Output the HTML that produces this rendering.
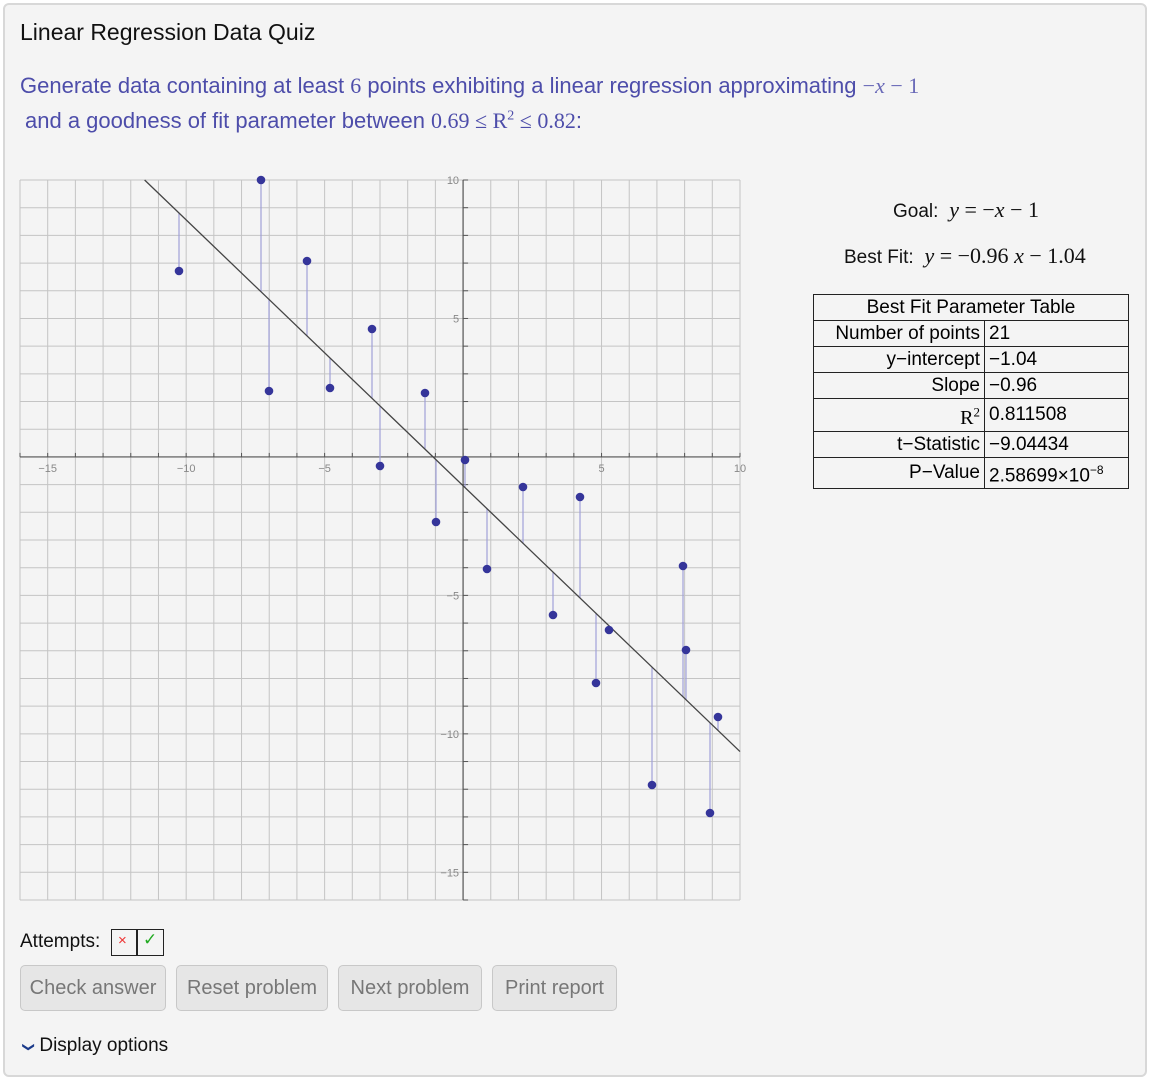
<!DOCTYPE html>
<html><head><meta charset="utf-8"><style>
body{margin:0;width:1150px;height:1080px;background:#fff;font-family:"Liberation Sans",sans-serif;position:relative;overflow:hidden}
.panel{position:absolute;left:3px;top:3px;width:1140px;height:1070px;border:2px solid #d8d8d8;border-radius:6px;background:#f4f4f4}
.t{position:absolute;white-space:nowrap}
.ser{font-family:"Liberation Serif",serif}
table{position:absolute;left:813px;top:294px;border-collapse:collapse;font-size:19px;background:#f4f4f4}
td{border:1.5px solid #222;padding:0 4px;height:25px;line-height:25px}
td.l{text-align:right}
.btn{position:absolute;top:965px;height:44px;border:1.5px solid #c8c8c8;border-radius:5px;background:#e6e6e6;color:#777;font-size:20px;line-height:44px;text-align:center}
</style></head><body>
<div class="panel"></div>
<div class="t" style="left:20px;top:19px;font-size:23px;color:#111">Linear Regression Data Quiz</div>
<div class="t" style="left:20px;top:73px;font-size:22px;color:#4d4daa">Generate data containing at least <span class="ser">6</span> points exhibiting a linear regression approximating <span class="ser" style="color:#6a6ab8">&minus;<i>x</i> &minus; 1</span></div>
<div class="t" style="left:25px;top:108px;font-size:22px;color:#4d4daa">and a goodness of fit parameter between <span class="ser">0.69 &le; R<sup style="font-size:14px">2</sup> &le; 0.82</span>:</div>
<svg id="p" style="position:absolute;left:0;top:0" width="1150" height="1080"></svg>
<div class="t" style="left:893px;top:197px;font-size:19px;color:#111">Goal: <span class="ser" style="font-size:22px">&nbsp;<i>y</i> = &minus;<i>x</i> &minus; 1</span></div>
<div class="t" style="left:844px;top:243px;font-size:19px;color:#111">Best Fit: <span class="ser" style="font-size:22px">&nbsp;<i>y</i> = &minus;0.96 <i>x</i> &minus; 1.04</span></div>
<table>
<tr><td colspan="2" style="text-align:center;width:306px">Best Fit Parameter Table</td></tr>
<tr><td class="l" style="width:162px">Number of points</td><td>21</td></tr>
<tr><td class="l">y&minus;intercept</td><td>&minus;1.04</td></tr>
<tr><td class="l">Slope</td><td>&minus;0.96</td></tr>
<tr><td class="l"><span class="ser" style="font-size:20px">R<sup style="font-size:13px">2</sup></span></td><td>0.811508</td></tr>
<tr><td class="l">t&minus;Statistic</td><td>&minus;9.04434</td></tr>
<tr><td class="l">P&minus;Value</td><td>2.58699&times;10<sup style="font-size:12px">&minus;8</sup></td></tr>
</table>
<div class="t" style="left:20px;top:931px;font-size:19px;color:#111">Attempts:</div>
<div style="position:absolute;left:111px;top:929px;width:53px;height:27px;border:1.5px solid #222;box-sizing:border-box">
<div style="position:absolute;left:24px;top:0;width:1.5px;height:100%;background:#222"></div>
<span style="position:absolute;left:6px;top:2px;color:#e33;font-size:15px">&times;</span>
<span style="position:absolute;left:31px;top:0;color:#2a2;font-size:17px">&#10003;</span></div>
<div class="btn" style="left:20px;width:144px">Check answer</div>
<div class="btn" style="left:176px;width:150px">Reset problem</div>
<div class="btn" style="left:338px;width:142px">Next problem</div>
<div class="btn" style="left:492px;width:123px">Print report</div>
<div class="t" style="left:24px;top:1035px;font-size:19px;color:#111"><span style="display:inline-block;color:#1a3a8a;font-size:12px;transform:rotate(90deg)">&#10095;</span> Display options</div>
<script>
var s=document.getElementById('p'),h='',u=720/26;
function X(x){return 20+(x+16)*u}function Y(y){return 180+(10-y)*u}
for(var i=-16;i<=10;i++){h+='<line x1="'+X(i)+'" y1="180" x2="'+X(i)+'" y2="900" stroke="#c4c4c4" stroke-width="1"/>';h+='<line x1="20" y1="'+Y(i)+'" x2="740" y2="'+Y(i)+'" stroke="#c4c4c4" stroke-width="1"/>';}
h+='<line x1="20" y1="'+Y(0)+'" x2="740" y2="'+Y(0)+'" stroke="#555" stroke-width="1.2"/><line x1="'+X(0)+'" y1="180" x2="'+X(0)+'" y2="900" stroke="#555" stroke-width="1.2"/>';
for(i=-16;i<=10;i++){h+='<line x1="'+X(i)+'" y1="'+Y(0)+'" x2="'+X(i)+'" y2="'+(Y(0)-4)+'" stroke="#555"/><line x1="'+X(0)+'" y1="'+Y(i)+'" x2="'+(X(0)+5)+'" y2="'+Y(i)+'" stroke="#555"/>';}
[-15,-10,-5,5,10].forEach(function(v){h+='<text x="'+X(v)+'" y="'+(Y(0)+15)+'" font-size="11" fill="#888" text-anchor="middle">'+(v<0?'\u2212'+(-v):v)+'</text>';});
[10,5,-5,-10,-15].forEach(function(v){h+='<text x="'+(X(0)-4)+'" y="'+(Y(v)+4)+'" font-size="11" fill="#888" text-anchor="end">'+(v<0?'\u2212'+(-v):v)+'</text>';});
var P=[[179,271],[261,180],[269,391],[307,261],[330,388],[372,329],[380,466],[425,393],[436,522],[465,460],[487,569],[523,487],[553,615],[580,497],[596,683],[609,630],[652,785],[683,566],[686,650],[710,813],[718,717]];
P.forEach(function(p){var x=(p[0]-20)/u-16,yl=Y(-0.96*x-1.04);h+='<line x1="'+p[0]+'" y1="'+p[1]+'" x2="'+p[0]+'" y2="'+yl+'" stroke="#a0a0d8" stroke-width="1.2"/>';});
h+='<line x1="'+X(-11.5)+'" y1="'+Y(10)+'" x2="'+X(10)+'" y2="'+Y(-10.64)+'" stroke="#444" stroke-width="1.3"/>';
P.forEach(function(p){h+='<circle cx="'+p[0]+'" cy="'+p[1]+'" r="4.3" fill="#35359a"/>';});
s.innerHTML=h;
</script>
</body></html>
